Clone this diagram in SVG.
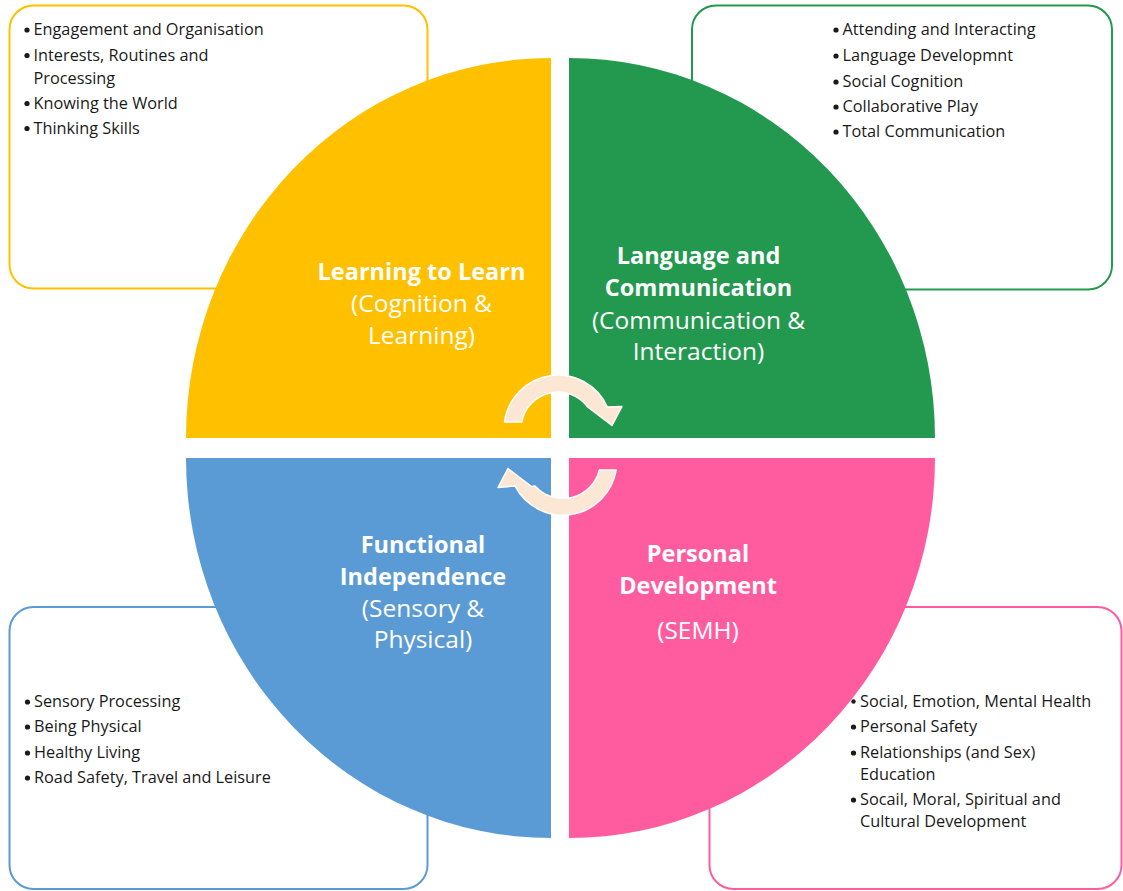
<svg xmlns="http://www.w3.org/2000/svg" width="1123" height="891" viewBox="0 0 1123 891">
<style>
.box{fill:#ffffff;stroke-width:2}
.item{font-family:"Open Sans","Liberation Sans",sans-serif;font-size:16.3px;fill:#1a1a1a}
.dot{fill:#1a1a1a}
.tb{font-family:"Open Sans","Liberation Sans",sans-serif;font-size:23.5px;font-weight:bold;fill:#ffffff;text-anchor:middle}
.tr{font-family:"Open Sans","Liberation Sans",sans-serif;font-size:24.5px;fill:#ffffff;text-anchor:middle}
.cyc{fill:#FCE6D4;stroke:#ffffff;stroke-width:1.5;stroke-linejoin:round}
</style>
<rect width="1123" height="891" fill="#ffffff"/>

<g id="box-learning">
<rect class="box" x="9.5" y="5.5" width="418" height="283" rx="24" stroke="#FFC000"/>
<circle class="dot" cx="27" cy="30" r="2.6"/><text class="item" x="33.5" y="35">Engagement and Organisation</text>
<circle class="dot" cx="27" cy="55.5" r="2.6"/><text class="item" x="33.5" y="60.5">Interests, Routines and</text>
<text class="item" x="33.5" y="83.5">Processing</text>
<circle class="dot" cx="27" cy="103.5" r="2.6"/><text class="item" x="33.5" y="108.5">Knowing the World</text>
<circle class="dot" cx="27" cy="128.5" r="2.6"/><text class="item" x="33.5" y="133.5">Thinking Skills</text>
</g>

<g id="box-language">
<rect class="box" x="692" y="5.5" width="420" height="284" rx="24" stroke="#23994F"/>
<circle class="dot" cx="836" cy="30" r="2.6"/><text class="item" x="842.5" y="35">Attending and Interacting</text>
<circle class="dot" cx="836" cy="56" r="2.6"/><text class="item" x="842.5" y="61">Language Developmnt</text>
<circle class="dot" cx="836" cy="82" r="2.6"/><text class="item" x="842.5" y="87">Social Cognition</text>
<circle class="dot" cx="836" cy="107" r="2.6"/><text class="item" x="842.5" y="112">Collaborative Play</text>
<circle class="dot" cx="836" cy="132" r="2.6"/><text class="item" x="842.5" y="137">Total Communication</text>
</g>

<g id="box-functional">
<rect class="box" x="9.5" y="607" width="418" height="282" rx="24" stroke="#5B9BD5"/>
<circle class="dot" cx="27.5" cy="702" r="2.6"/><text class="item" x="34" y="707">Sensory Processing</text>
<circle class="dot" cx="27.5" cy="727" r="2.6"/><text class="item" x="34" y="732">Being Physical</text>
<circle class="dot" cx="27.5" cy="753" r="2.6"/><text class="item" x="34" y="758">Healthy Living</text>
<circle class="dot" cx="27.5" cy="778" r="2.6"/><text class="item" x="34" y="783">Road Safety, Travel and Leisure</text>
</g>

<g id="box-personal">
<rect class="box" x="709.5" y="607" width="412" height="282" rx="24" stroke="#FF5CA0"/>
<circle class="dot" cx="853.5" cy="701.5" r="2.2"/><text class="item" x="860" y="706.5">Social, Emotion, Mental Health</text>
<circle class="dot" cx="853.5" cy="727" r="2.6"/><text class="item" x="860" y="732">Personal Safety</text>
<circle class="dot" cx="853.5" cy="753" r="2.6"/><text class="item" x="860" y="758">Relationships (and Sex)</text>
<text class="item" x="860" y="780">Education</text>
<circle class="dot" cx="853.5" cy="800" r="2.6"/><text class="item" x="860" y="805">Socail, Moral, Spiritual and</text>
<text class="item" x="860" y="827">Cultural Development</text>
</g>

<g id="learning-to-learn">
<path d="M551 438 L186 438 A365 380 0 0 1 551 58 Z" fill="#FFC000"/>
<text class="tb" x="421.5" y="280">Learning to Learn</text>
<text class="tr" x="421.5" y="312">(Cognition &amp;</text>
<text class="tr" x="421.5" y="344">Learning)</text>
</g>

<g id="language-and-communication">
<path d="M569 438 L569 58 A366 380 0 0 1 935 438 Z" fill="#23994F"/>
<text class="tb" x="698.5" y="263.5">Language and</text>
<text class="tb" x="698.5" y="296">Communication</text>
<text class="tr" x="698.5" y="328.5">(Communication &amp;</text>
<text class="tr" x="698.5" y="360">Interaction)</text>
</g>

<g id="functional-independence">
<path d="M551 458 L551 838 A365 380 0 0 1 186 458 Z" fill="#5B9BD5"/>
<text class="tb" x="423" y="553">Functional</text>
<text class="tb" x="423" y="584.5">Independence</text>
<text class="tr" x="423" y="616.5">(Sensory &amp;</text>
<text class="tr" x="423" y="648">Physical)</text>
</g>

<g id="personal-development">
<path d="M569 458 L935 458 A366 380 0 0 1 569 838 Z" fill="#FF5CA0"/>
<text class="tb" x="698" y="562">Personal</text>
<text class="tb" x="698" y="593.5">Development</text>
<text class="tr" x="698" y="638.5">(SEMH)</text>
</g>

<g id="connectors">
<path class="cyc" d="M504.5 422 A54 54 0 0 1 607.3 407 L622 406.5 L612 425.5 L587 406.5 L587.7 407 A37 37 0 0 0 521.7 422 Z"/>
<path class="cyc" d="M616.2 470 A54 54 0 0 1 515 486 L498 487.5 L508 468.5 L531.5 486.5 L535 486 A37.5 37.5 0 0 0 599.4 470 Z"/>
</g>
</svg>
